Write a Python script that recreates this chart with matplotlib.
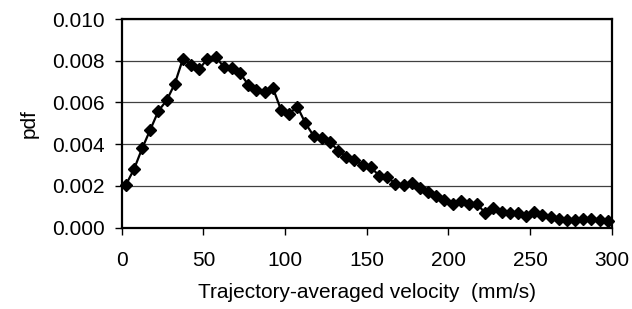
import matplotlib
matplotlib.use("Agg")
import matplotlib.pyplot as plt
from matplotlib.ticker import FormatStrFormatter

plt.rcParams['font.family'] = ['Liberation Sans', 'DejaVu Sans']

# trajectory-averaged velocity (mm/s), bin centres
velocity = [2.5, 7.5, 12.5, 17.5, 22.5, 27.5, 32.5, 37.5, 42.5, 47.5,
            52.5, 57.5, 62.5, 67.5, 72.5, 77.5, 82.5, 87.5, 92.5, 97.5,
            102.5, 107.5, 112.5, 117.5, 122.5, 127.5, 132.5, 137.5, 142.5, 147.5,
            152.5, 157.5, 162.5, 167.5, 172.5, 177.5, 182.5, 187.5, 192.5, 197.5,
            202.5, 207.5, 212.5, 217.5, 222.5, 227.5, 232.5, 237.5, 242.5, 247.5,
            252.5, 257.5, 262.5, 267.5, 272.5, 277.5, 282.5, 287.5, 292.5, 297.5]

# probability density
pdf = [0.00205, 0.0028, 0.0038, 0.0047, 0.0056, 0.0061, 0.0069, 0.0081, 0.0078, 0.0076,
       0.0081, 0.0082, 0.0077, 0.00765, 0.0074, 0.00685, 0.0066, 0.0065, 0.0067, 0.00565,
       0.00546, 0.0058, 0.0050, 0.0044, 0.0043, 0.0041, 0.0037, 0.0034, 0.00325, 0.0030,
       0.0029, 0.0025, 0.00245, 0.0021, 0.00205, 0.00215, 0.0019, 0.0017, 0.0015, 0.00135,
       0.00115, 0.0013, 0.00115, 0.00115, 0.0007, 0.00095, 0.00077, 0.0007, 0.0007, 0.00055,
       0.00075, 0.0006, 0.00052, 0.00042, 0.00037, 0.00037, 0.0004, 0.0004, 0.00036, 0.00034]

fig = plt.figure(figsize=(6.32, 3.09), dpi=100)
ax = fig.add_axes([0.1926, 0.263, 0.7754, 0.6755])

ax.plot(velocity, pdf, color='black', lw=1.6, marker='D', markersize=6.5,
        markerfacecolor='black', markeredgecolor='black', clip_on=False, zorder=3)

ax.set_xlim(0, 300)
ax.set_ylim(0, 0.010)
ax.set_xticks([0, 50, 100, 150, 200, 250, 300])
ax.set_yticks([0.000, 0.002, 0.004, 0.006, 0.008, 0.010])
ax.yaxis.set_major_formatter(FormatStrFormatter('%.3f'))

ax.grid(axis='y', color='#404040', lw=0.9)
ax.set_axisbelow(True)

for s in ax.spines.values():
    s.set_linewidth(1.6)
    s.set_color('black')

ax.tick_params(direction='out', length=5, width=1.0, labelsize=15, pad=7)
ax.tick_params(axis='x', pad=12)

ax.set_xlabel('Trajectory-averaged velocity  (mm/s)', fontsize=15, labelpad=9)
ax.set_ylabel('pdf', fontsize=15, labelpad=10)

fig.savefig('out.png', dpi=100)
